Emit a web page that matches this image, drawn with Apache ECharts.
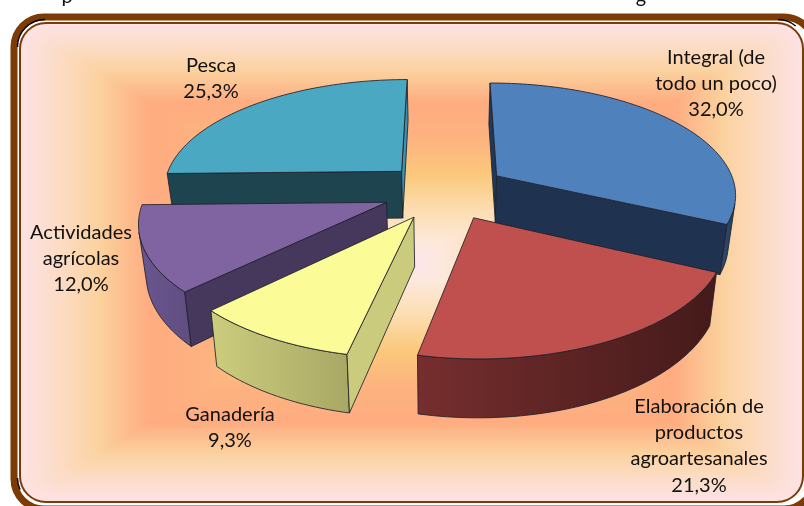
<!DOCTYPE html>
<html><head><meta charset="utf-8">
<style>html,body{margin:0;padding:0;background:#fff}#c{width:804px;height:506px}</style>
<script src="https://cdn.jsdelivr.net/npm/echarts@6/dist/echarts.min.js"></script>
</head><body><div id="c"></div>
<script>
const categories = ['Integral (de\ntodo un poco)', 'Elaboración de\nproductos\nagroartesanales', 'Ganadería', 'Actividades\nagrícolas', 'Pesca'];
const shares = [32.0, 21.3, 9.3, 12.0, 25.3];

// look of each slice
const topColors = ['#4f81bd', '#bf504d', '#fbfb98', '#8064a2', '#4aa8c3'];
const startWall = ['#1f3a58', '#4a1c1c', '#cbcb7d', '#46375c', '#1e4450'];
const endWall = ['#1f3350', '#4a1c1c', '#c4c478', '#46375c', '#3a93ad'];
const outerLeft = ['#2c4a72', '#762e2e', '#cdcd7e', '#6b5690', '#1e4450'];
const outerRight = ['#26405f', '#451a1a', '#a8a865', '#5f4d80', '#1e4450'];
const paintOrder = [1, 3, 4, 2, 0];
const labelPlaces = [[716, 44], [699, 393], [230, 401], [81, 219], [211, 52]];

// pseudo-3D camera
const cx = 445, cy = 191, Rx = 240, Ry = 111, persp = 0.15, explode = 0.26, depth = 48, taper = 0.025;
const rad = d => d * Math.PI / 180;
const total = shares.reduce((a, b) => a + b, 0);
function project(X, Y, Z) {
  const s = 1 / (1 + persp * Y);
  return [cx + Rx * X * s * (1 - taper * Z), cy - Ry * Y * s + depth * Z * s];
}
function signedArea(pts) {
  let a = 0;
  for (let k = 0; k < pts.length; k++) {
    const p = pts[k], q = pts[(k + 1) % pts.length];
    a += p[0] * q[1] - q[0] * p[1];
  }
  return a;
}
function renderSlice(params) {
  const i = params.dataIndex;
  let before = 0;
  for (let k = 0; k < i; k++) before += shares[k];
  const a0 = before / total * 360, a1 = (before + shares[i]) / total * 360, mid = (a0 + a1) / 2;
  const ox = explode * Math.sin(rad(mid)), oy = explode * Math.cos(rad(mid));
  const rim = a => [ox + Math.sin(rad(a)), oy + Math.cos(rad(a))];
  const steps = Math.ceil((a1 - a0) / 1.5);
  const arcTop = [], arcBot = [];
  for (let k = 0; k <= steps; k++) {
    const p = rim(a0 + (a1 - a0) * k / steps);
    arcTop.push(project(p[0], p[1], 0));
    arcBot.push(project(p[0], p[1], 1));
  }
  const apexT = project(ox, oy, 0), apexB = project(ox, oy, 1);
  const base = paintOrder[i] * 10;
  const line = { stroke: '#20202a', lineWidth: 0.85, lineJoin: 'round' };
  const poly = (pts, fill, z) => ({ type: 'polygon', z2: base + z, shape: { points: pts }, style: Object.assign({ fill: fill }, line) });
  const grad = new echarts.graphic.LinearGradient(0, 0, 1, 0, [
    { offset: 0, color: outerLeft[i] }, { offset: 1, color: outerRight[i] }]);
  const pct = shares[i].toFixed(1).replace('.', ',') + '%';
  const children = [];
  const qStart = [apexT, arcTop[0], arcBot[0], apexB];
  const qEnd = [apexT, arcTop[steps], arcBot[steps], apexB];
  if (signedArea(qStart) < 0) children.push(poly(qStart, startWall[i], 2));
  if (signedArea(qEnd) > 0) children.push(poly(qEnd, endWall[i], 2));
  // only the stretch of the rim that faces the viewer
  let first = -1, last = -1;
  for (let k = 0; k < steps; k++) {
    if (signedArea([arcTop[k], arcTop[k + 1], arcBot[k + 1], arcBot[k]]) < 0) {
      if (first < 0) first = k;
      last = k + 1;
    }
  }
  if (first >= 0) {
    const t = arcTop.slice(first, last + 1), b = arcBot.slice(first, last + 1).reverse();
    children.push(poly(t.concat(b), grad, 1));
  }
  children.push(poly([apexT].concat(arcTop), topColors[i], 3));
  children.push({ type: 'text', z2: 100, x: labelPlaces[i][0], y: labelPlaces[i][1], silent: true,
    style: { text: categories[i] + '\n' + pct, fill: '#111', font: '20px Lato, "Open Sans", sans-serif',
             align: 'center', verticalAlign: 'top', lineHeight: 26.3 } });
  return { type: 'group', children: children };
}

// backdrop: concentric rectangle gradient
const stops = [[0, [253, 226, 228]], [0.1, [252, 220, 196]], [0.2, [251, 209, 158]], [0.33, [254, 172, 128]], [0.47, [253, 178, 128]], [0.63, [251, 200, 124]], [0.78, [252, 222, 178]], [0.92, [253, 232, 220]], [1, [251, 230, 240]]];
function backColor(t) {
  for (let k = 1; k < stops.length; k++) {
    if (t <= stops[k][0]) {
      const a = stops[k - 1], b = stops[k], f = (t - a[0]) / (b[0] - a[0]);
      return 'rgb(' + a[1].map((v, j) => Math.round(v + (b[1][j] - v) * f)).join(',') + ')';
    }
  }
  return 'rgb(251,230,240)';
}
const backdrop = [];
const hw = 391.5, hh = 239.5, bx = 411.5, by = 262.5, nSteps = 130;
for (let k = 0; k < nSteps; k++) {
  const t = k / nSteps, w = hw * (1 - t), h = hh * (1 - t);
  backdrop.push({ type: 'rect', silent: true, z: 0, shape: { x: bx - w, y: by - h, width: 2 * w, height: 2 * h, r: Math.max(26 - t * 90, 0) }, style: { fill: backColor(t) } });
}
backdrop.push({ type: 'rect', silent: true, z: 1, shape: { x: 20, y: 23, width: 783, height: 479, r: 26 }, style: { fill: 'none', stroke: '#7b3a06', lineWidth: 2 } });
backdrop.push({ type: 'rect', silent: true, z: 1, shape: { x: 14, y: 17, width: 800, height: 492, r: 30 }, style: { fill: 'none', stroke: '#7b3a06', lineWidth: 7 } });
// small dark slivers between the two frame lines
const slivers = [[45, 47, 180, 270], [778, 47, 270, 310], [45, 478, 155, 180]];
slivers.forEach(a => backdrop.push({ type: 'arc', silent: true, z: 2,
  shape: { cx: a[0], cy: a[1], r: 27.5, startAngle: rad(a[2]), endAngle: rad(a[3]) },
  style: { fill: 'none', stroke: '#000', lineWidth: 1.4 } }));
backdrop.push({ type: 'text', silent: true, z: 1, x: 67, y: -13, style: { text: 'p', fill: '#111', font: '20px Lato, sans-serif', align: 'center', verticalAlign: 'top' } });
backdrop.push({ type: 'text', silent: true, z: 1, x: 641, y: -13, style: { text: 'g', fill: '#111', font: '20px Lato, sans-serif', align: 'center', verticalAlign: 'top' } });

const chart = echarts.init(document.getElementById('c'), null, { renderer: 'canvas' });
chart.setOption({
  animation: false,
  graphic: { elements: backdrop },
  xAxis: { show: false }, yAxis: { show: false },
  series: [{ type: 'custom', coordinateSystem: 'none', silent: true, z: 5, renderItem: renderSlice, data: shares }]
});
</script></body></html>
